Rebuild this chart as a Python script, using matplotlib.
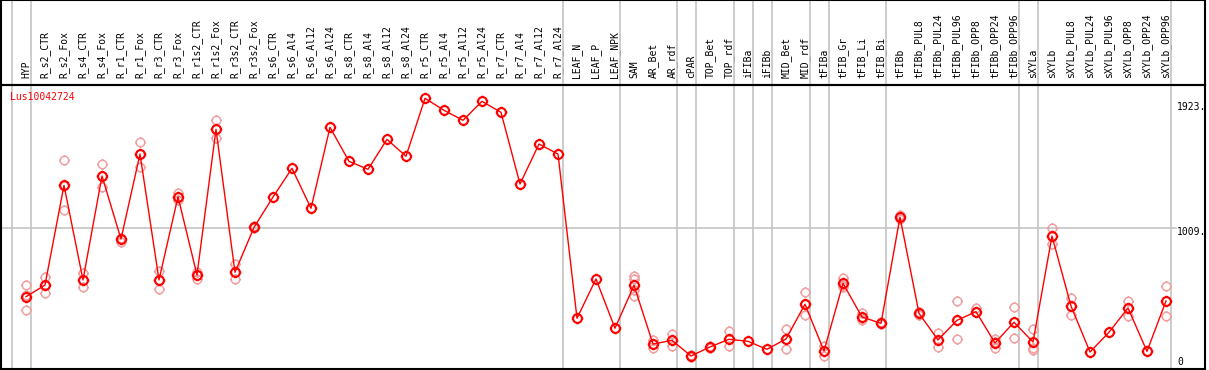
import matplotlib
matplotlib.use("Agg")
import matplotlib.pyplot as plt
import numpy as np
from matplotlib.path import Path

# ---------------- data ----------------
gene = "Lus10042724"
categories = [
    "HYP", "R_s2_CTR", "R_s2_Fox", "R_s4_CTR", "R_s4_Fox", "R_r1_CTR", "R_r1_Fox",
    "R_r3_CTR", "R_r3_Fox", "R_r1s2_CTR", "R_r1s2_Fox", "R_r3s2_CTR", "R_r3s2_Fox",
    "R_s6_CTR", "R_s6_Al4", "R_s6_Al12", "R_s6_Al24", "R_s8_CTR", "R_s8_Al4",
    "R_s8_Al12", "R_s8_Al24", "R_r5_CTR", "R_r5_Al4", "R_r5_Al12", "R_r5_Al24",
    "R_r7_CTR", "R_r7_Al4", "R_r7_Al12", "R_r7_Al24", "LEAF_N", "LEAF_P", "LEAF_NPK",
    "SAM", "AR_Bet", "AR_rdf", "cPAR", "TOP_Bet", "TOP_rdf", "iFIBa", "iFIBb",
    "MID_Bet", "MID_rdf", "tFIBa", "tFIB_Gr", "tFIB_Li", "tFIB_Bi", "tFIBb",
    "tFIBb_PUL8", "tFIBb_PUL24", "tFIBb_PUL96", "tFIBb_OPP8", "tFIBb_OPP24",
    "tFIBb_OPP96", "sXYLa", "sXYLb", "sXYLb_PUL8", "sXYLb_PUL24", "sXYLb_PUL96",
    "sXYLb_OPP8", "sXYLb_OPP24", "sXYLb_OPP96",
]
group_sizes = [1, 28, 3, 3, 1, 2, 1, 1, 2, 1, 3, 7, 1, 7]

means = [
    512, 597, 1323, 634, 1391, 932, 1551, 634, 1240, 670, 1731, 690, 1017,
    1238, 1447, 1156, 1746, 1498, 1440, 1658, 1535, 1957, 1870, 1797, 1935,
    1855, 1333, 1624, 1551, 355, 641, 282, 595, 167, 194, 80, 146, 202, 187,
    129, 204, 457, 117, 609, 364, 318, 1092, 391, 197, 340, 403, 175, 326,
    182, 954, 444, 109, 253, 430, 114, 481,
]

replicates = [
    [597, 415, 524], [658, 537, 597], [1508, 1144, 1318], [682, 585, 634],
    [1479, 1309, 1391], [913, 940, 932], [1639, 1459, 1551], [701, 566, 634],
    [1265, 1216, 1240], [694, 639, 670], [1799, 1666, 1731], [748, 643, 690],
    [1017, 1010, 1025],
    [], [], [], [], [], [], [], [], [], [], [], [], [], [], [], [], [], [], [],
    [663, 641, 561, 517], [197, 136, 167], [238, 155, 194], [85, 75, 80],
    [150, 142], [262, 151, 202], [], [], [274, 129, 204], [544, 376, 457],
    [82, 152], [648, 580, 600], [391, 342, 360], [325, 312], [1109, 1080],
    [400, 380], [245, 148, 197], [481, 204, 340], [432, 403], [202, 141, 180],
    [437, 211, 326], [277, 136, 124], [1012, 896, 954], [503, 381, 444],
    [], [], [481, 371, 430], [], [588, 371, 481],
]

ytick_values = [0, 1009, 1923]
ytick_labels = ["0", "1009.", "1923."]

# ---------------- style / layout ----------------
W, H = 1209, 370
DPI = 100
PX = 72.0 / DPI  # points per pixel
FONT = "DejaVu Sans Mono"
RED = "#ff0000"
PINK = "#f0a0a0"
GRID = "#c4c4c4"

left_px, right_px = 1, 1205
top_hdr, top_plot, bottom_plot = 0, 85, 369
x0_px, step_px = 26, 19
zero_px, ref_px, ref_val = 367, 103, 1923

xlim = ((left_px - x0_px) / step_px, (right_px - x0_px) / step_px)
scale = (zero_px - ref_px) / ref_val
ylim = ((zero_px - bottom_plot) / scale, (zero_px - top_plot) / scale)

fig = plt.figure(figsize=(W / DPI, H / DPI), dpi=DPI)
fig.patch.set_facecolor("white")

ax = fig.add_axes([left_px / W, (H - bottom_plot) / H,
                   (right_px - left_px) / W, (bottom_plot - top_plot) / H])
hax = fig.add_axes([left_px / W, (H - top_plot) / H,
                    (right_px - left_px) / W, (top_plot - top_hdr) / H],
                   sharex=ax)
hax.patch.set_visible(False)
ax.set_xlim(*xlim)
ax.set_ylim(*ylim)
hax.set_ylim(0, 1)

for a in (ax, hax):
    for s in a.spines.values():
        s.set_color("black")
        s.set_linewidth(1.5)
    a.tick_params(left=False, right=False, labelleft=False, labelright=False)
hax.tick_params(bottom=False, top=False, labelbottom=False, labeltop=False)

bounds = np.cumsum([0] + group_sizes) - 1
sep_off = 4.7 / step_px
for b in bounds:
    ax.axvline(b + sep_off, color=GRID, lw=1.2, zorder=0)
    hax.axvline(b + sep_off, color=GRID, lw=1.2, zorder=0)

label_x = (1177 - x0_px) / step_px
ax.plot([xlim[0], label_x - 0.05], [ytick_values[1]] * 2, color=GRID, lw=1.2, zorder=0)

ax.xaxis.tick_top()
ax.set_xticks(range(len(categories)))
ax.set_xticklabels(categories, rotation=90, fontsize=7, family=FONT,
                   va="bottom", ha="center")
ax.tick_params(axis="x", top=False, bottom=False, labelbottom=False,
               labeltop=True, pad=2 * PX)

# marker: circle with four small ticks
circ = Path.unit_circle()
ticks_verts = []
ticks_codes = []
for dx, dy in [(1, 0), (-1, 0), (0, 1), (0, -1)]:
    ticks_verts += [(dx * 1.0, dy * 1.0), (dx * 1.3, dy * 1.3)]
    ticks_codes += [Path.MOVETO, Path.LINETO]
marker = Path.make_compound_path(circ, Path(ticks_verts, ticks_codes))

xs = np.arange(len(categories))
for i, reps in enumerate(replicates):
    if reps:
        ax.plot([i] * len(reps), reps, linestyle="none", marker=marker,
                markersize=11 * PX, markerfacecolor="none",
                markeredgecolor=PINK, markeredgewidth=1.1, zorder=2,
                clip_on=False)

ax.plot(xs, means, color=RED, lw=1.0, marker=marker, markersize=11.5 * PX,
        markerfacecolor="none", markeredgecolor=RED, markeredgewidth=1.5,
        zorder=3, clip_on=False)

ax.text((10 - x0_px) / step_px, (zero_px - 97) / scale, gene, color=RED,
        fontsize=7, family=FONT, ha="left", va="center")

offsets = {0: 5.0, 1009: -3.5, 1923: -3.7}
for v, lab in zip(ytick_values, ytick_labels):
    ax.annotate(lab, xy=(label_x, v), xytext=(0, offsets[v] * PX),
                textcoords="offset points", fontsize=7, family=FONT,
                ha="left", va="center", color="black")

fig.savefig("out.png", dpi=DPI, facecolor="white")
